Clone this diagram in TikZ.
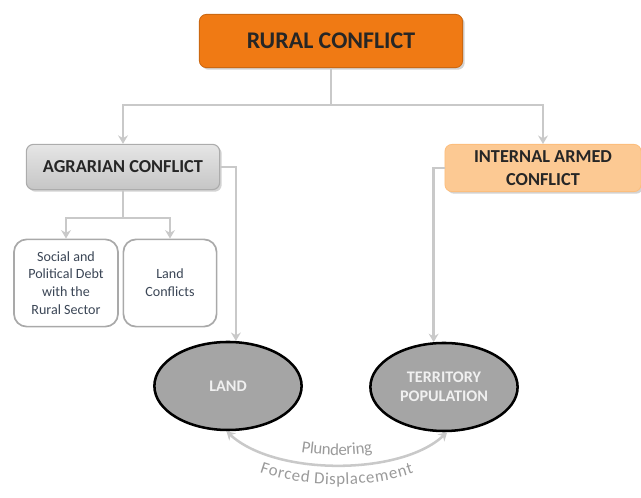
\documentclass[tikz,border=0pt]{standalone}
\usepackage{fontspec}
\setmainfont{Carlito}
\usetikzlibrary{arrows.meta,shadows,shapes.geometric,decorations.text}

\definecolor{ruralorange}{HTML}{F07A14}
\definecolor{armedpeach}{HTML}{FCC993}
\definecolor{linegray}{HTML}{C9C9C9}
\definecolor{boxgray}{HTML}{A9A9A9}
\definecolor{ovalgray}{HTML}{A5A5A5}
\definecolor{slatetext}{HTML}{3B4656}
\definecolor{labelgray}{HTML}{9A9A9A}

\begin{document}
\begin{tikzpicture}[x=0.025cm, y=-0.025cm,
		conn/.style={draw=linegray, line width=1.8pt},
		tip/.style={-{Stealth[length=6pt,width=7pt]}},
		headbox/.style={rectangle, rounded corners=5pt, align=center, text=black!85,
			drop shadow={opacity=0.35, shadow xshift=1.5pt, shadow yshift=-1.5pt}},
		subbox/.style={rectangle, rounded corners=9pt, draw=boxgray, line width=1.2pt, fill=white,
			align=center, text=slatetext, font=\fontsize{10}{12.6}\selectfont,
			inner sep=2pt, minimum height=2.18cm},
		oval/.style={ellipse, draw=black, line width=1.8pt, fill=ovalgray, text=white!94!black,
			align=center, font=\bfseries\fontsize{11.5}{13.5}\selectfont,
			minimum width=3.68cm, minimum height=2.2cm, inner sep=1pt}]
		\useasboundingbox (0,0) rectangle (641,498);
		
		% Top box
		\node[headbox, fill=ruralorange, draw=ruralorange!85!black, line width=0.6pt,
			minimum width=6.58cm, minimum height=1.33cm,
			font=\bfseries\fontsize{17}{19}\selectfont] (rural) at (331,41) {RURAL CONFLICT};
		
		% Second level
		\node[headbox, top color=gray!20, bottom color=gray!45, draw=gray!65, line width=0.8pt,
			minimum width=4.83cm, minimum height=1.13cm,
			font=\bfseries\fontsize{13}{15}\selectfont] (agrarian) at (123,167) {AGRARIAN CONFLICT};
		\node[headbox, fill=armedpeach, draw=armedpeach!85!orange, line width=0.6pt,
			minimum width=4.9cm, minimum height=1.18cm,
			font=\bfseries\fontsize{13}{16}\selectfont] (armed) at (543,168) {INTERNAL ARMED\\CONFLICT};
		
		% Agrarian sub-boxes
		\node[subbox, minimum width=2.6cm] (debt) at (66,283) {Social and\\Political Debt\\with the\\Rural Sector};
		\node[subbox, minimum width=2.33cm] (landconf) at (170,283) {Land\\Conflicts};
		
		% Ovals
		\node[oval] (land) at (228,386) {LAND};
		\node[oval] (territory) at (444,387) {TERRITORY\\POPULATION};
		
		% Tree connectors
		\coordinate (hub) at (331,105);
		\coordinate (subhub) at (123,218);
		\draw[conn] (rural) -- (hub);
		\draw[conn, tip] (hub) -| (agrarian);
		\draw[conn, tip] (hub) -| (armed);
		\draw[conn] (agrarian) -- (subhub);
		\draw[conn, tip] (subhub) -| (debt);
		\draw[conn, tip] (subhub) -| (landconf);
		
		% Side connectors down to the ovals
		\draw[conn, tip] (agrarian.east) -| (land.80);
		\draw[conn, tip] (armed.west) -| (territory.103);
		
		% Bottom curve with its two labels
		\draw[conn, {Stealth[length=6pt,width=7pt]}-{Stealth[length=6pt,width=7pt]}]
			(land.-92) .. controls (275,476) and (400,476) .. (territory.-86);
		\path[decorate, decoration={text along path, text align=center, raise=7pt,
			text={|\color{labelgray}\fontsize{12}{12}\selectfont|Plundering}}]
			(land.-92) .. controls (275,476) and (400,476) .. (territory.-86);
		\path[decorate, decoration={text along path, text align=center, raise=-14pt,
			text={|\color{labelgray}\fontsize{12}{12}\selectfont|Forced Displacement}}]
			(land.-92) .. controls (275,476) and (400,476) .. (territory.-86);
		
	\end{tikzpicture}
\end{document}
